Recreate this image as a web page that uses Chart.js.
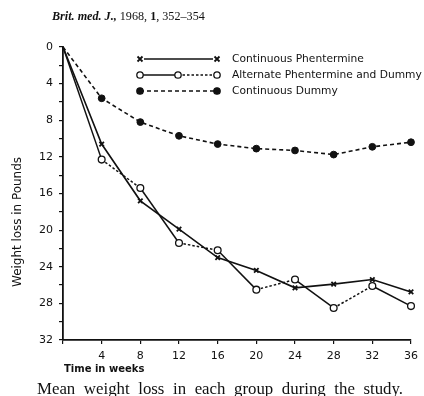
<!DOCTYPE html>
<html><head><meta charset="utf-8">
<script src="https://cdn.jsdelivr.net/npm/chart.js@4"></script>
<style>html,body{margin:0;padding:0;background:#fff;}canvas{display:block;}</style>
</head><body>
<canvas id="c" width="424" height="396"></canvas>
<script>
// ---- data ----
const weeks = [0, 4, 8, 12, 16, 20, 24, 28, 32, 36];
const continuousPhentermine = [0, 10.6, 16.8, 19.9, 23.0, 24.4, 26.3, 25.9, 25.4, 26.75];
const alternatePhentermineDummy = [0, 12.3, 15.4, 21.4, 22.2, 26.5, 25.4, 28.5, 26.1, 28.3];
const continuousDummy = [0, 5.6, 8.2, 9.7, 10.6, 11.1, 11.3, 11.75, 10.9, 10.4];
const yTickLabels = [0, 4, 8, 12, 16, 20, 24, 28, 32];
const xTickLabels = [4, 8, 12, 16, 20, 24, 28, 32, 36];
const seriesNames = ['Continuous Phentermine', 'Alternate Phentermine and Dummy', 'Continuous Dummy'];
const yTitle = 'Weight loss in Pounds';
const xTitle = 'Time in weeks';
const caption = 'Mean weight loss in each group during the study.';
const sourceParts = [['Brit. med. J.,', 'italic bold'], [' 1968, ', ''], ['1', 'bold'], [', 352–354', '']];

const INK = '#111';
const pts = arr => weeks.map((w, i) => ({ x: w, y: arr[i] }));
const hideFirst = r => ctx => ctx.dataIndex === 0 ? 0 : r;

const decor = {
  id: 'decor',
  afterDraw(chart) {
    const ctx = chart.ctx, ca = chart.chartArea;
    ctx.save();
    ctx.fillStyle = INK; ctx.strokeStyle = INK;
    // source line
    const fam = '"Liberation Serif", serif';
    let sz = 10;
    const fnt = (st, s) => (st ? st + ' ' : '') + s + 'px ' + fam;
    let tw = 0;
    sourceParts.forEach(p => { ctx.font = fnt(p[1], sz); tw += ctx.measureText(p[0]).width; });
    sz = sz * 153 / tw;
    let x = 52;
    ctx.textBaseline = 'alphabetic'; ctx.textAlign = 'left';
    sourceParts.forEach(p => { ctx.font = fnt(p[1], sz); ctx.fillText(p[0], x, 20); x += ctx.measureText(p[0]).width; });
    // caption, justified
    const sx = 1.05;
    ctx.font = '16px ' + fam;
    const words = caption.split(' ');
    const ws = words.map(w => ctx.measureText(w).width * sx);
    const sum = ws.reduce((a, b) => a + b, 0);
    const gap = (403 - 37 - sum) / (words.length - 1);
    x = 37;
    words.forEach((w, i) => {
      ctx.save(); ctx.translate(x, 394); ctx.scale(sx, 1); ctx.fillText(w, 0, 0); ctx.restore();
      x += ws[i] + gap;
    });
    // axis titles
    ctx.font = 'bold 10px "DejaVu Sans"';
    ctx.fillText(xTitle, ca.left + 1, 372);
    ctx.save();
    ctx.translate(21, 222); ctx.rotate(-Math.PI / 2);
    ctx.textAlign = 'center';
    ctx.font = '10px "DejaVu Sans"';
    const ys = 130 / ctx.measureText(yTitle).width * 10;
    ctx.font = ys + 'px "DejaVu Sans"';
    ctx.fillText(yTitle, 0, 0);
    ctx.restore();
    // legend
    const x0 = 140, x1 = 217, xm = 178, rows = [59, 75, 91];
    const cross = (cx, cy) => { ctx.lineWidth = 1.8; ctx.setLineDash([]); ctx.beginPath(); ctx.moveTo(cx - 2.5, cy - 2.5); ctx.lineTo(cx + 2.5, cy + 2.5); ctx.moveTo(cx + 2.5, cy - 2.5); ctx.lineTo(cx - 2.5, cy + 2.5); ctx.stroke(); };
    const circ = (cx, cy, fill) => { ctx.setLineDash([]); ctx.lineWidth = 1.3; ctx.beginPath(); ctx.arc(cx, cy, 3.2, 0, Math.PI * 2); ctx.fillStyle = fill ? INK : '#fff'; ctx.fill(); ctx.stroke(); ctx.fillStyle = INK; };
    const seg = (a, b, y, dash) => { ctx.lineWidth = 1.5; ctx.setLineDash(dash); ctx.beginPath(); ctx.moveTo(a, y); ctx.lineTo(b, y); ctx.stroke(); ctx.setLineDash([]); };
    seg(x0 + 4, x1 - 4, rows[0], []); cross(x0, rows[0]); cross(x1, rows[0]);
    seg(x0, xm, rows[1], []); seg(xm, x1, rows[1], [2.5, 2]); circ(x0, rows[1], false); circ(xm, rows[1], false); circ(x1, rows[1], false);
    seg(x0, x1, rows[2], [4, 3]); circ(x0, rows[2], true); circ(x1, rows[2], true);
    ctx.font = '10px "DejaVu Sans"';
    const s = 190 / ctx.measureText(seriesNames[1]).width * 10;
    ctx.font = s + 'px "DejaVu Sans"';
    ctx.textBaseline = 'middle';
    seriesNames.forEach((n, i) => ctx.fillText(n, 232, rows[i]));
    ctx.restore();
  }
};

new Chart(document.getElementById('c'), {
  type: 'line',
  data: {
    datasets: [
      {
        label: seriesNames[0], data: pts(continuousPhentermine),
        borderColor: INK, borderWidth: 1.6, tension: 0,
        pointStyle: 'crossRot', pointRadius: hideFirst(3.2), pointBorderWidth: 1.8,
        pointBorderColor: INK, pointBackgroundColor: INK, clip: false
      },
      {
        label: seriesNames[1], data: pts(alternatePhentermineDummy),
        borderColor: INK, borderWidth: 1.5, tension: 0,
        segment: { borderDash: c => (c.p0DataIndex % 2 === 1 ? [2.5, 2] : []) },
        pointStyle: 'circle', pointRadius: hideFirst(3.4), pointBorderWidth: 1.3,
        pointBorderColor: INK, pointBackgroundColor: '#fff', clip: false
      },
      {
        label: seriesNames[2], data: pts(continuousDummy),
        borderColor: INK, borderWidth: 1.6, tension: 0, borderDash: [4, 3],
        pointStyle: 'circle', pointRadius: hideFirst(3.4), pointBorderWidth: 1,
        pointBorderColor: INK, pointBackgroundColor: INK, clip: false
      }
    ]
  },
  options: {
    responsive: false, animation: false, devicePixelRatio: 1,
    layout: { padding: { left: 0, top: 47, right: 11, bottom: 0 } },
    plugins: { legend: { display: false }, tooltip: { enabled: false } },
    scales: {
      x: {
        type: 'linear', min: 0, max: 36,
        afterFit: s => { s.height = 56; },
        afterBuildTicks: s => { s.ticks = [0].concat(xTickLabels).map(v => ({ value: v })); },
        ticks: { color: INK, font: { family: 'DejaVu Sans', size: 11 }, padding: 6, maxRotation: 0,
                 callback: v => (v === 0 ? '' : String(v)) },
        grid: { drawOnChartArea: false, drawTicks: true, tickLength: 4, color: INK, lineWidth: 1.2 },
        border: { display: true, color: INK, width: 1.8 }
      },
      y: {
        type: 'linear', min: 0, max: 32, reverse: true,
        afterFit: s => { s.width = 63; },
        ticks: { stepSize: 2, color: INK, font: { family: 'DejaVu Sans', size: 11 }, padding: 6,
                 callback: v => (yTickLabels.includes(v) ? String(v) : '') },
        grid: { drawOnChartArea: false, drawTicks: true, tickLength: 4, color: INK, lineWidth: 1.2 },
        border: { display: true, color: INK, width: 1.8 }
      }
    }
  },
  plugins: [decor]
});
</script>
</body></html>
